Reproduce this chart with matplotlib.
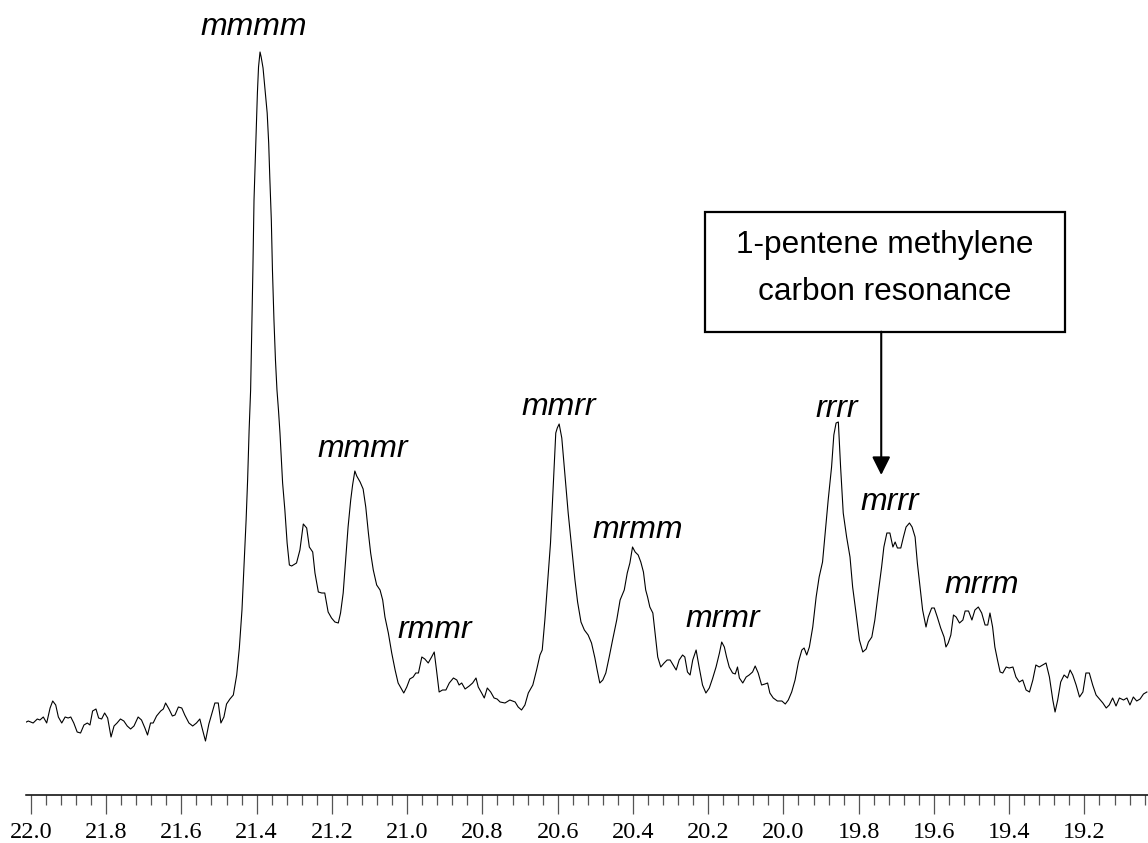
import matplotlib
matplotlib.use("Agg")
import matplotlib.pyplot as plt
from matplotlib.patches import Rectangle
from matplotlib.ticker import MultipleLocator

# 13C NMR methyl region (ppm, arbitrary intensity)
shift_ppm = [
    22.012, 22.007, 21.994, 21.983, 21.976, 21.967, 21.958, 21.949, 21.942, 21.934,
    21.927, 21.918, 21.909, 21.901, 21.894, 21.886, 21.877, 21.868, 21.859, 21.850,
    21.843, 21.836, 21.827, 21.820, 21.812, 21.804, 21.796, 21.787, 21.779, 21.771,
    21.762, 21.753, 21.744, 21.735, 21.726, 21.715, 21.706, 21.697, 21.690, 21.682,
    21.675, 21.666, 21.655, 21.648, 21.642, 21.633, 21.624, 21.617, 21.608, 21.599,
    21.591, 21.580, 21.570, 21.560, 21.551, 21.545, 21.536, 21.527, 21.518, 21.511,
    21.502, 21.495, 21.487, 21.480, 21.471, 21.462, 21.453, 21.446, 21.439, 21.434,
    21.428, 21.424, 21.420, 21.416, 21.413, 21.410, 21.407, 21.402, 21.398, 21.395,
    21.391, 21.388, 21.383, 21.377, 21.372, 21.368, 21.365, 21.361, 21.358, 21.354,
    21.350, 21.346, 21.342, 21.338, 21.331, 21.325, 21.319, 21.313, 21.307, 21.294,
    21.285, 21.276, 21.267, 21.260, 21.251, 21.245, 21.236, 21.227, 21.219, 21.210,
    21.201, 21.192, 21.183, 21.177, 21.170, 21.163, 21.157, 21.150, 21.145, 21.139,
    21.134, 21.125, 21.117, 21.110, 21.103, 21.097, 21.090, 21.081, 21.072, 21.065,
    21.059, 21.050, 21.041, 21.032, 21.024, 21.009, 21.001, 20.993, 20.984, 20.977,
    20.970, 20.961, 20.953, 20.944, 20.935, 20.928, 20.922, 20.915, 20.906, 20.897,
    20.888, 20.877, 20.868, 20.862, 20.855, 20.846, 20.835, 20.826, 20.817, 20.811,
    20.802, 20.795, 20.787, 20.778, 20.769, 20.761, 20.753, 20.740, 20.727, 20.713,
    20.705, 20.696, 20.687, 20.678, 20.666, 20.656, 20.647, 20.641, 20.634, 20.625,
    20.619, 20.612, 20.605, 20.601, 20.596, 20.589, 20.581, 20.572, 20.563, 20.554,
    20.547, 20.538, 20.529, 20.519, 20.510, 20.501, 20.495, 20.488, 20.480, 20.472,
    20.463, 20.454, 20.443, 20.434, 20.423, 20.415, 20.408, 20.401, 20.394, 20.386,
    20.379, 20.372, 20.366, 20.361, 20.355, 20.347, 20.341, 20.334, 20.326, 20.317,
    20.309, 20.301, 20.293, 20.285, 20.277, 20.268, 20.262, 20.255, 20.248, 20.241,
    20.232, 20.224, 20.215, 20.206, 20.197, 20.188, 20.179, 20.170, 20.164, 20.157,
    20.151, 20.144, 20.135, 20.128, 20.122, 20.117, 20.108, 20.099, 20.091, 20.082,
    20.075, 20.067, 20.058, 20.049, 20.042, 20.036, 20.027, 20.016, 20.004, 19.995,
    19.987, 19.978, 19.969, 19.960, 19.951, 19.945, 19.938, 19.931, 19.922, 19.913,
    19.905, 19.896, 19.889, 19.881, 19.872, 19.866, 19.860, 19.854, 19.848, 19.841,
    19.832, 19.823, 19.816, 19.807, 19.798, 19.789, 19.780, 19.774, 19.765, 19.757,
    19.748, 19.739, 19.733, 19.725, 19.717, 19.709, 19.703, 19.697, 19.688, 19.681,
    19.674, 19.665, 19.658, 19.650, 19.644, 19.637, 19.630, 19.621, 19.615, 19.606,
    19.599, 19.591, 19.582, 19.573, 19.568, 19.562, 19.555, 19.548, 19.541, 19.532,
    19.523, 19.517, 19.508, 19.499, 19.491, 19.482, 19.473, 19.464, 19.457, 19.451,
    19.444, 19.438, 19.431, 19.424, 19.417, 19.408, 19.400, 19.390, 19.382, 19.373,
    19.364, 19.355, 19.346, 19.337, 19.329, 19.320, 19.311, 19.302, 19.293, 19.284,
    19.278, 19.271, 19.263, 19.254, 19.245, 19.238, 19.231, 19.222, 19.213, 19.204,
    19.196, 19.187, 19.178, 19.169, 19.160, 19.151, 19.142, 19.134, 19.125, 19.116,
    19.107, 19.096, 19.087, 19.079, 19.070, 19.061, 19.052, 19.043, 19.034,
]
intensity = [
    -2, -1, -3, 1, 0, 3, -3, 12, 19, 15,
    3, -3, 3, 2, 3, -3, -12, -13, -5, -3,
    -5, 9, 11, 2, 1, 7, 2, -17, -6, -3,
    1, -1, -6, -9, -6, 3, 0, -8, -15, -3,
    -3, 4, 9, 11, 17, 11, 4, 5, 13, 12,
    5, -3, -6, -3, 1, -8, -21, -4, 8, 17,
    17, -3, 3, 16, 21, 25, 45, 72, 110, 150,
    200, 240, 290, 330, 390, 450, 520, 580, 627, 653,
    668, 663, 652, 627, 607, 577, 542, 500, 450, 400,
    360, 330, 310, 287, 237, 210, 177, 155, 154, 157,
    170, 196, 192, 173, 168, 147, 128, 127, 127, 108,
    102, 98, 97, 107, 127, 163, 193, 220, 235, 249,
    244, 238, 231, 213, 187, 167, 150, 135, 130, 120,
    103, 87, 67, 50, 37, 27, 33, 41, 43, 47,
    47, 63, 61, 57, 63, 68, 50, 28, 30, 30,
    37, 42, 40, 35, 37, 31, 34, 37, 42, 33,
    27, 22, 32, 28, 22, 21, 18, 17, 20, 18,
    13, 10, 15, 27, 35, 50, 65, 70, 100, 147,
    177, 233, 287, 292, 296, 282, 247, 207, 173, 140,
    118, 98, 90, 85, 77, 62, 50, 37, 40, 47,
    63, 80, 100, 120, 130, 147, 157, 173, 168, 165,
    158, 148, 130, 123, 113, 107, 87, 63, 53, 57,
    60, 60, 55, 50, 60, 65, 63, 48, 45, 60,
    70, 53, 35, 27, 32, 42, 53, 67, 78, 73,
    63, 53, 47, 46, 53, 42, 37, 43, 45, 48,
    54, 47, 35, 36, 37, 27, 22, 19, 19, 16,
    20, 28, 40, 58, 70, 72, 65, 73, 93, 123,
    143, 158, 187, 220, 253, 285, 297, 298, 253, 207,
    183, 163, 133, 107, 80, 68, 71, 78, 83, 100,
    127, 153, 173, 187, 187, 173, 178, 172, 172, 183,
    193, 197, 193, 183, 157, 133, 110, 93, 103, 112,
    112, 103, 92, 83, 73, 77, 85, 105, 103, 97,
    100, 109, 109, 100, 110, 113, 107, 95, 95, 107,
    93, 73, 60, 48, 47, 53, 52, 53, 43, 38,
    40, 30, 28, 40, 55, 53, 55, 57, 43, 20,
    8, 20, 38, 45, 42, 50, 45, 35, 23, 28,
    47, 47, 35, 25, 21, 17, 12, 15, 22, 14,
    22, 20, 22, 15, 23, 19, 21, 26, 28,
]

# pentad assignments: label, ppm, height of label baseline
peak_labels = ["mmmm", "mmmr", "rmmr", "mmrr", "mrmm", "mrmr", "rrrr", "mrrr", "mrrm"]
label_ppm = [21.407, 21.117, 20.926, 20.596, 20.386, 20.162, 19.859, 19.718, 19.473]
label_height = [685, 263, 82, 305, 182, 93, 303, 210, 127]

box_lines = ["1-pentene methylene", "carbon resonance"]
arrow_ppm = 19.740

fig = plt.figure(figsize=(11.48, 8.43), dpi=100)
ax = fig.add_axes([26 / 1148, 48 / 843, 1 - 26 / 1148, 795 / 843])

ax.plot(shift_ppm, intensity, color="black", lw=0.8)

ax.set_xlim(22.013, 19.031)
ax.set_ylim(-75, 720)

for s in ["left", "top", "right"]:
    ax.spines[s].set_visible(False)
ax.spines["bottom"].set_linewidth(1.1)
ax.set_yticks([])

ax.xaxis.set_major_locator(MultipleLocator(0.2))
ax.xaxis.set_minor_locator(MultipleLocator(0.04))
ax.xaxis.set_major_formatter(matplotlib.ticker.FormatStrFormatter("%.1f"))
ax.tick_params(axis="x", which="major", direction="out", length=13.5, width=0.9,
               color="#555555", pad=6, labelsize=17.5)
ax.tick_params(axis="x", which="minor", direction="out", length=7, width=0.9,
               color="#555555")
for lab in ax.get_xticklabels():
    lab.set_fontfamily("Liberation Serif")

for name, x, y in zip(peak_labels, label_ppm, label_height):
    ax.text(x, y, name, ha="center", va="baseline", fontsize=23,
            style="italic", family="Liberation Sans")

# annotation box and arrow
ax.add_patch(Rectangle((20.208, 388.3), 19.251 - 20.208, 120, fill=False,
                       lw=1.6, edgecolor="black", clip_on=False))
ax.text(19.730, 466.7, box_lines[0], ha="center", va="baseline", fontsize=22.8,
        family="Liberation Sans")
ax.text(19.730, 420, box_lines[1], ha="center", va="baseline", fontsize=22.8,
        family="Liberation Sans")
ax.annotate("", xy=(arrow_ppm, 245), xytext=(arrow_ppm, 388.3),
            arrowprops=dict(arrowstyle="-|>,head_length=1.1,head_width=0.55",
                            color="black", lw=1.5, shrinkA=0, shrinkB=0))

fig.savefig("out.png", dpi=100)
